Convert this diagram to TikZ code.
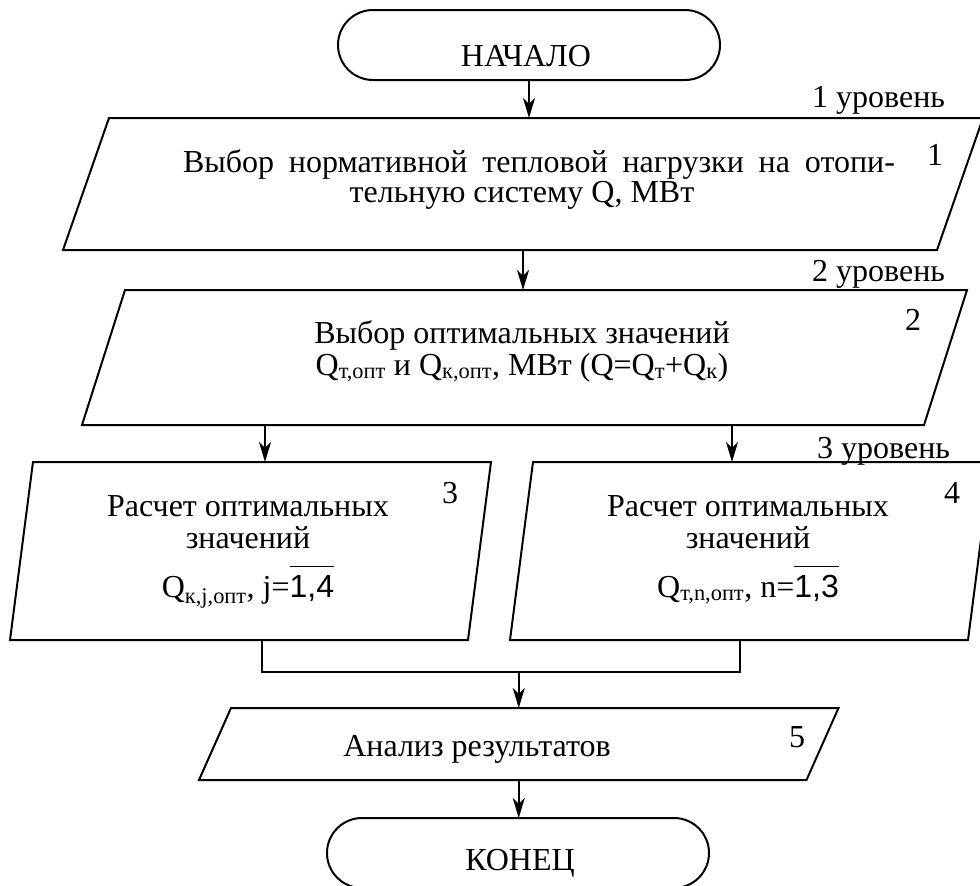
\documentclass[tikz,border=0pt]{standalone}
\usepackage{fontspec}
\setmainfont{Liberation Serif}
\setsansfont{Liberation Sans}
\usetikzlibrary{arrows.meta,calc}
\newcommand{\ovl}[1]{$\overline{\rule{0pt}{29pt}\hbox{\sffamily #1}}$}
\newcommand{\para}[2]{\draw ($(#1.north west)+(#2/2,0)$) -- ($(#1.north east)+(#2/2,0)$)
  -- ($(#1.south east)-(#2/2,0)$) -- ($(#1.south west)-(#2/2,0)$) -- cycle;}

\begin{document}
\begin{tikzpicture}[x=1pt,y=-1pt,line width=2pt,
  every node/.style={font=\fontsize{32}{31}\selectfont,inner sep=0pt,outer sep=0pt},
  term/.style={draw,rounded corners=35pt,minimum width=382pt,minimum height=70pt},
  arr/.style={-{Stealth[length=20pt,width=12pt,inset=6pt]}}]
  \useasboundingbox (0,0) rectangle (980,886);
  % blocks
  \node[term] (start) at (529,45) {};
  \node[minimum width=874pt,minimum height=132pt] (p1) at (523,184) {};
  \node[minimum width=842pt,minimum height=135pt] (p2) at (524.5,357.5) {};
  \node[minimum width=458pt,minimum height=178pt] (p3) at (250.5,551) {};
  \node[minimum width=458pt,minimum height=178pt] (p4) at (750.5,551) {};
  \node[minimum width=607.5pt,minimum height=72pt] (p5) at (518.75,744) {};
  \node[term] (finish) at (518,853) {};
  \para{p1}{46} \para{p2}{43} \para{p3}{23} \para{p4}{23} \para{p5}{32}
  % texts (base = last line)
  \node[anchor=base] (t0) at (526,66) {НАЧАЛО};
  \node[align=center,anchor=base] (t1) at (539,202)
    {\makebox[712pt][s]{Выбор нормативной тепловой нагрузки на отопи-}\\[-1pt]
     \hspace*{-34pt}тельную систему Q, МВт};
  \node[align=center,anchor=base] (t2) at (522,375)
    {Выбор оптимальных значений\\[1pt]Q\textsubscript{т,опт} и Q\textsubscript{к,опт}, МВт (Q=Q\textsubscript{т}+Q\textsubscript{к})};
  \node[align=center,anchor=base] (t3) at (248,597)
    {Расчет оптимальных\\[1pt]значений\\[16pt]Q\textsubscript{к,j,опт}, j=\ovl{1,4}};
  \node[align=center,anchor=base] (t4) at (748,597)
    {Расчет оптимальных\\[1pt]значений\\[16pt]Q\textsubscript{т,n,опт}, n=\ovl{1,3}};
  \node[anchor=base] (t5) at (477,756) {Анализ результатов};
  \node[anchor=base] (t6) at (520,870) {КОНЕЦ};
  \foreach \n/\x/\y in {1/935/165,2/913/330,3/450/503,4/952/503,5/797/747}
    { \node[anchor=base] (n\n) at (\x,\y) {\n}; }
  \foreach \n/\x/\y in {1/945/107,2/945/281,3/950/458}
    { \node[anchor=base east] (lev\n) at (\x,\y) {\n~уровень}; }
  % connectors
  \coordinate (a3) at ($(p3.north)+(14.5,0)$);
  \coordinate (a4) at ($(p4.north)+(-18.5,0)$);
  \coordinate (b3) at ($(p3.south)+(11.5,0)$);
  \coordinate (b4) at ($(p4.south)+(-10.5,0)$);
  \coordinate (m) at ($(p5.north)+(0,-36)$);
  \draw[arr] (start.south) -- (start.south |- p1.north);
  \draw[arr] (p1.south) -- (p1.south |- p2.north);
  \draw[arr] (a3 |- p2.south) -- (a3);
  \draw[arr] (a4 |- p2.south) -- (a4);
  \draw (b3) -- (b3 |- m) -- (b4 |- m) -- (b4);
  \draw[arr] (m) -- (p5.north);
  \draw[arr] (p5.south) -- (p5.south |- finish.north);
\end{tikzpicture}
\end{document}
